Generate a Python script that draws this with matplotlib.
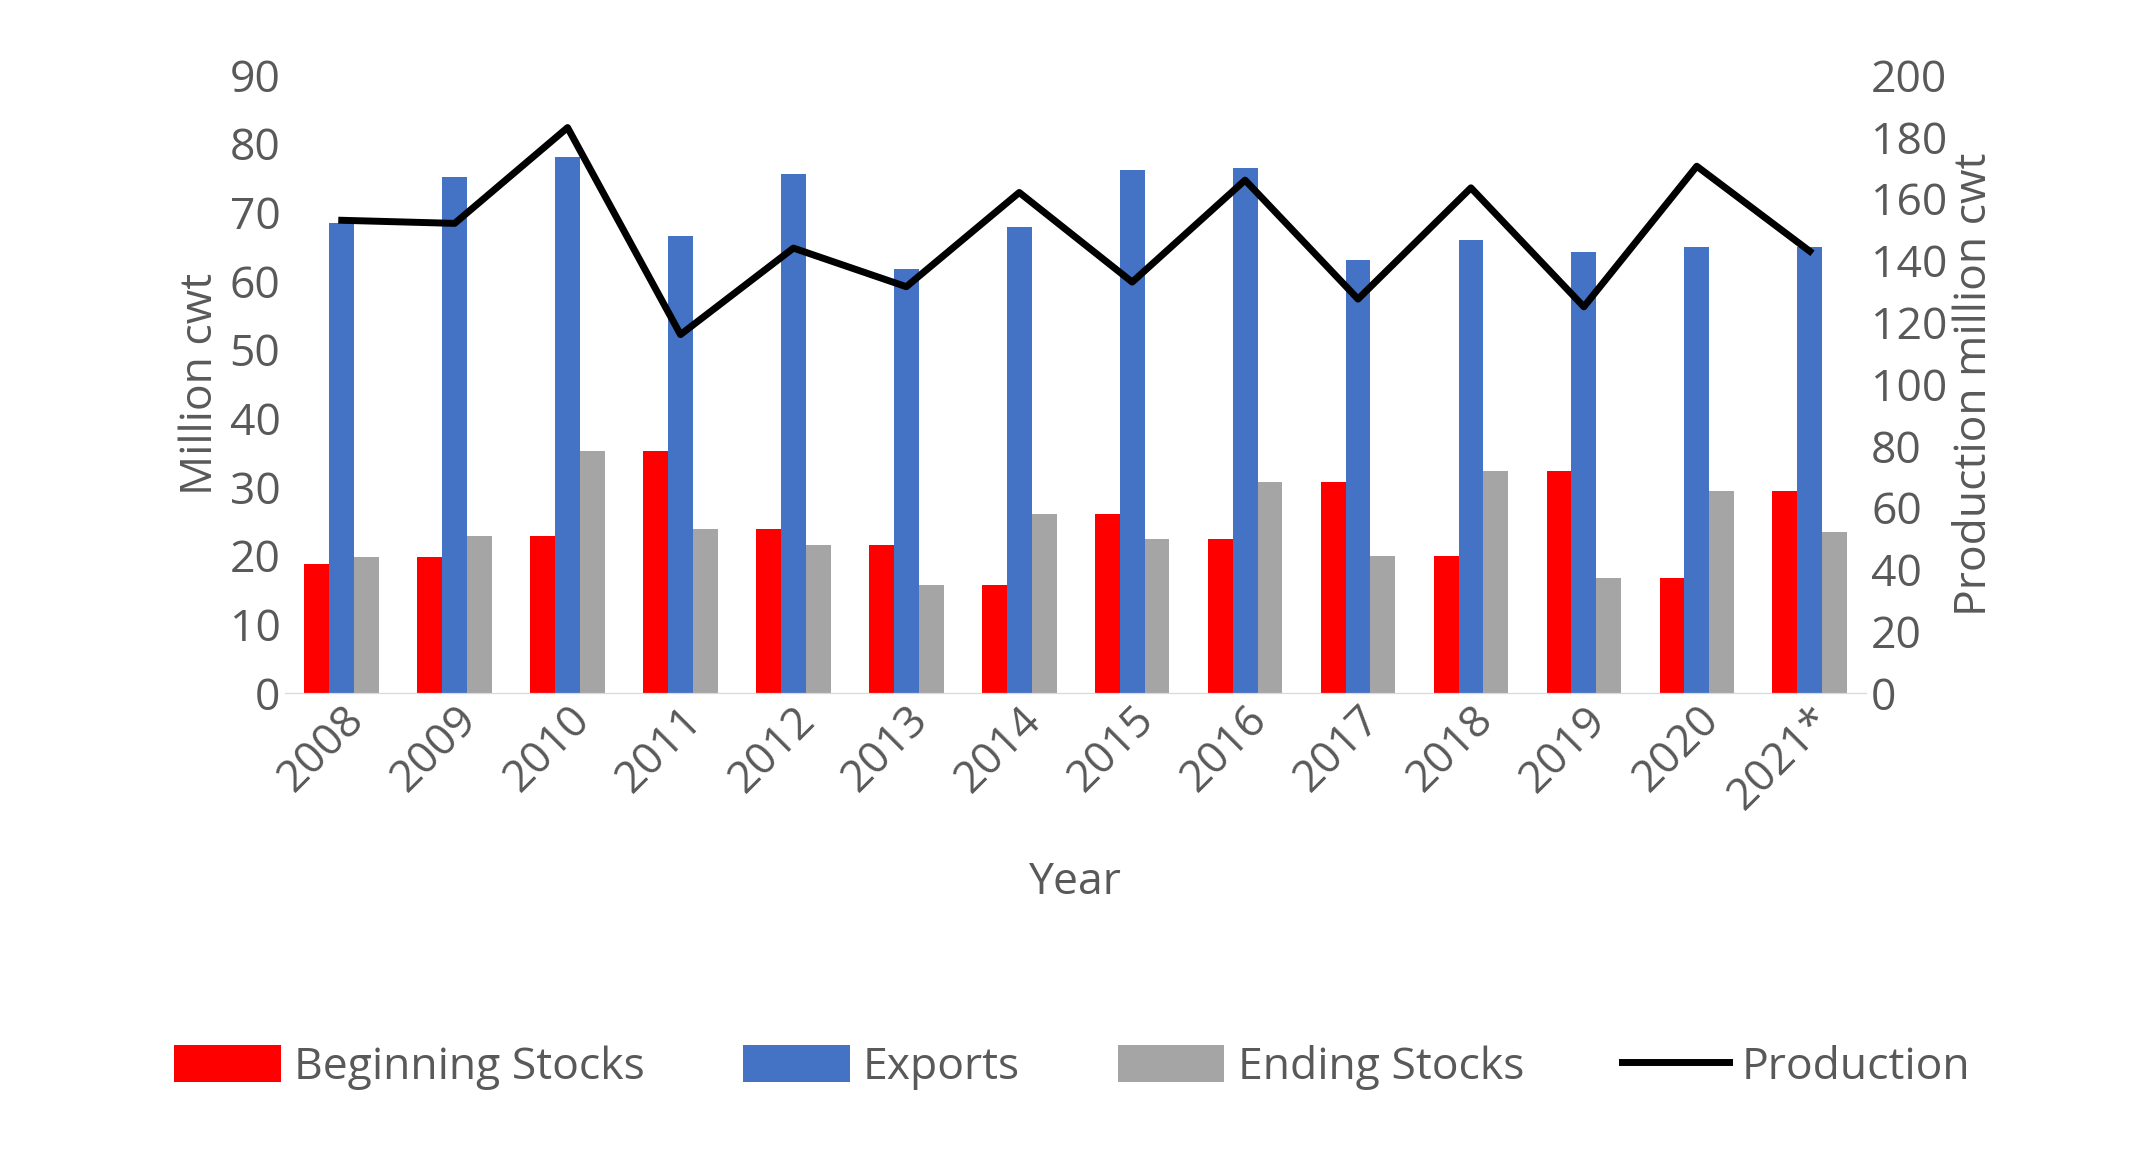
import matplotlib.pyplot as plt
import numpy as np

years = ['2008', '2009', '2010', '2011', '2012', '2013', '2014', '2015',
         '2016', '2017', '2018', '2019', '2020', '2021*']
beginning = [18.8, 19.8, 22.8, 35.2, 23.9, 21.5, 15.8, 26.1, 22.5, 30.7, 20.0, 32.3, 16.7, 29.4]
exports = [68.5, 75.1, 78.0, 66.5, 75.6, 61.7, 67.8, 76.2, 76.4, 63.0, 66.0, 64.3, 64.9, 64.9]
ending = [19.8, 22.8, 35.2, 23.9, 21.5, 15.8, 26.1, 22.5, 30.7, 20.0, 32.3, 16.7, 29.4, 23.5]
production = [153, 152, 183, 116, 144, 131.5, 162, 133, 166, 127.5, 163.5, 125, 170.5, 143]

grey = '#595959'
plt.rcParams['font.family'] = ['Open Sans', 'DejaVu Sans']
fs = 32

fig = plt.figure(figsize=(21.45, 11.55), dpi=100)
ax = fig.add_axes([0.133, 0.4, 0.737, 0.535])
x = np.arange(len(years))
w = 0.22
b1 = ax.bar(x - w, beginning, w, color='#ff0000', label='Beginning Stocks')
b2 = ax.bar(x, exports, w, color='#4472c4', label='Exports')
b3 = ax.bar(x + w, ending, w, color='#a5a5a5', label='Ending Stocks')
ax.set_ylim(0, 90)
ax.set_yticks(range(0, 91, 10))
ax.set_xlim(-0.5, len(years) - 0.5)
ax.set_xticks(x)
ax.set_xticklabels(years, rotation=45, ha='right', rotation_mode='anchor')
ax.set_ylabel('Million cwt', fontsize=fs, color=grey, labelpad=5)
ax.set_xlabel('Year', fontsize=fs, color=grey, labelpad=30)

ax2 = ax.twinx()
l1, = ax2.plot(x, production, color='black', lw=5, label='Production')
ax2.set_ylim(0, 200)
ax2.set_yticks(range(0, 201, 20))
ax2.set_ylabel('Production million cwt', fontsize=fs, color=grey)

for a in (ax, ax2):
    for s in ['top', 'left', 'right']:
        a.spines[s].set_visible(False)
    a.spines['bottom'].set_color('#d9d9d9')
    a.tick_params(labelsize=fs, colors=grey, length=0)

fig.legend(handles=[b1, b2, b3, l1], loc='center', bbox_to_anchor=(0.5, 0.076),
           ncol=4, frameon=False, fontsize=fs, labelcolor=grey,
           handlelength=2.4, handleheight=0.9, handletextpad=0.3,
           columnspacing=2.2)
fig.savefig('out.png', dpi=100)
